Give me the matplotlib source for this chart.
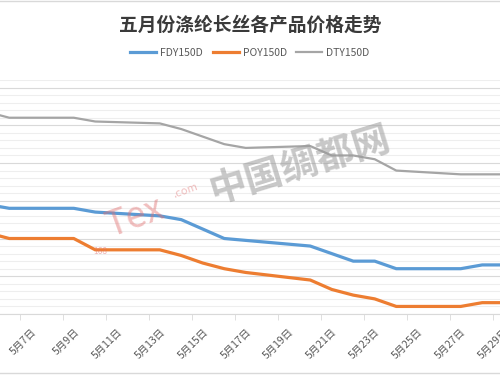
import matplotlib
matplotlib.use('Agg')
import matplotlib.pyplot as plt
from matplotlib.lines import Line2D

plt.rcParams['font.family'] = ['Noto Sans CJK SC', 'DejaVu Sans']

# May 2019 trading days
days = [5, 6, 7, 8, 9, 10, 13, 14, 15, 16, 17, 20, 21, 22, 23, 24, 27, 28, 29]
fdy = [8450, 8400, 8400, 8400, 8400, 8350, 8300, 8250, 8125, 8000, 7975,
       7900, 7800, 7700, 7700, 7600, 7600, 7650, 7650]
poy = [8075, 8000, 8000, 8000, 8000, 7850, 7850, 7775, 7675, 7600, 7550,
       7450, 7325, 7250, 7200, 7100, 7100, 7150, 7150]
dty = [9675, 9600, 9600, 9600, 9600, 9550, 9525, 9450, 9350, 9250, 9200,
       9225, 9100, 9100, 9050, 8900, 8850, 8850, 8850]
label_days = list(range(7, 31, 2))
tick_labels = ['5月{}日'.format(d) for d in label_days]

fig = plt.figure(figsize=(5, 3.75), dpi=100)
# the plot area runs a bit past the right edge (chart is cropped there)
ax = fig.add_axes([0, 0.1627, 1.029, 0.624])

# gridlines: minor every 100, major every 500
for v in range(7000, 10101, 100):
    c = '#d9d9d9' if v % 500 == 0 else '#eeeeee'
    ax.axhline(v, color=c, lw=0.8, zorder=0)

# watermark
fig.text(0.60, 0.56, '中国绸都网', fontsize=27, fontweight='bold', color='#9a9a9a',
         alpha=0.55, rotation=17, ha='center', va='center')
fig.text(0.27, 0.42, 'Tex', fontsize=26, style='italic', color='#e07070',
         alpha=0.45, rotation=20, ha='center', va='center')
fig.text(0.37, 0.49, '.com', fontsize=8, style='italic', color='#e07070',
         alpha=0.45, rotation=20, ha='center', va='center')
fig.text(0.20, 0.33, '168', fontsize=6, color='#e07070', alpha=0.5,
         ha='center', va='center')

ax.plot(days, fdy, color='#5B9BD5', lw=2.3, label='FDY150D', zorder=3)
ax.plot(days, poy, color='#ED7D31', lw=2.3, label='POY150D', zorder=3)
ax.plot(days, dty, color='#A5A5A5', lw=1.6, label='DTY150D', zorder=3)

ax.set_yticks([])
for s in ['top', 'left', 'right']:
    ax.spines[s].set_visible(False)
ax.spines['bottom'].set_color('#d9d9d9')

ax.set_xticks(label_days)
ax.set_xticklabels(tick_labels, rotation=45, ha='right', va='top',
                   rotation_mode='anchor', fontsize=7.5, color='#595959')
ax.tick_params(axis='x', which='major', length=0, pad=9)
ax.set_xticks([d + 0.5 for d in range(4, 30, 2)], minor=True)
ax.tick_params(axis='x', which='minor', length=4, color='#d9d9d9')

# limits last, set_xticks would widen them
ax.set_xlim(5.570, 29.5)
ax.set_ylim(7000, 10100)

fig.text(0.5, 1 - 25 / 375, '五月份涤纶长丝各产品价格走势', ha='center', va='center',
         fontsize=13.5, fontweight='bold', color='#3a3a3a')
ax.legend(loc='center', bbox_to_anchor=(0.5, 1 - 53 / 375),
          bbox_transform=fig.transFigure, ncol=3, frameon=False,
          fontsize=7.5, labelcolor='#595959', handlelength=2.5,
          handletextpad=0.4, columnspacing=0.9)

fig.add_artist(Line2D([0, 1], [0.998, 0.998], color='#d9d9d9', lw=1))
fig.add_artist(Line2D([0, 1], [0.005, 0.005], color='#d9d9d9', lw=1))

fig.savefig('out.png', dpi=100)
